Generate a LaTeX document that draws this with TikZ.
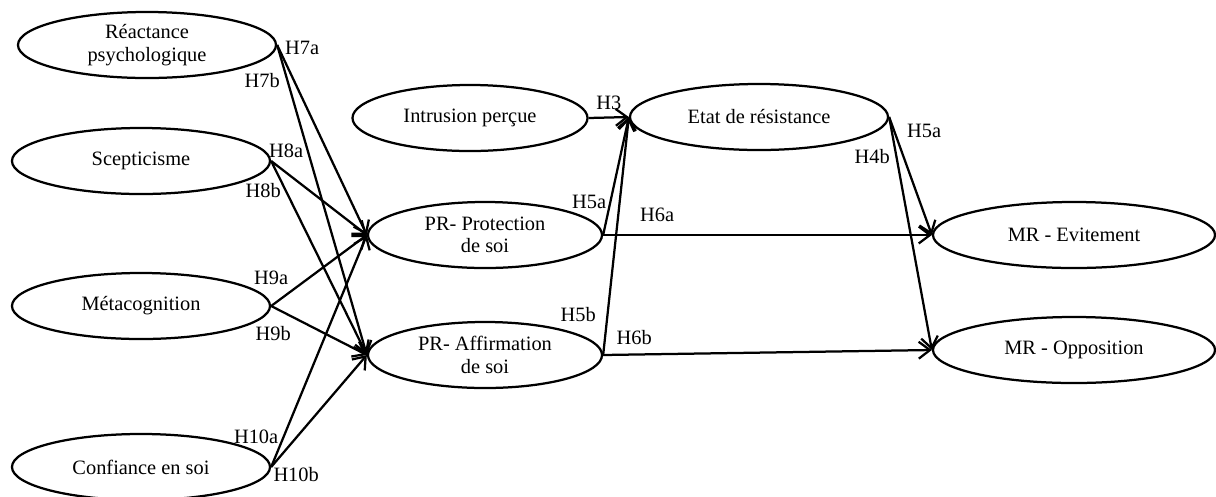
\documentclass[tikz,border=0pt]{standalone}
\usepackage{fontspec}
\setmainfont{Liberation Serif}
\usetikzlibrary{shapes.geometric,arrows.meta}

\begin{document}
\begin{tikzpicture}[
            x=0.025cm, y=-0.025cm,
            line width=1.6pt,
            >={Straight Barb[length=8pt,width=12pt]},
            var/.style={ellipse, draw, fill=white, inner sep=0pt, align=center,
                minimum width=6.45cm, minimum height=1.65cm,
                font=\rmfamily\fontsize{14.5}{16}\selectfont},
            hyp/.style={inner sep=0pt, font=\rmfamily\fontsize{14.5}{16}\selectfont},
            ]
            \useasboundingbox (0,0) rectangle (1216,496);

            \node (REA) [var] at (147,45) {Réactance\\psychologique};
            \node (SCE) [var] at (141,161) {Scepticisme};
            \node (MET) [var] at (141,306) {Métacognition};
            \node (CON) [var] at (141,467) {Confiance en soi};
            \node (INT) [var, minimum width=5.875cm] at (470,118) {Intrusion perçue};
            \node (PRP) [var, minimum width=5.85cm] at (485,235) {PR- Protection\\de soi};
            \node (PRA) [var, minimum width=5.85cm] at (485,355) {PR- Affirmation\\de soi};
            \node (ETA) [var] at (759,117) {Etat de résistance};
            \node (EVI) [var, minimum width=7.05cm] at (1074,235) {MR - Evitement};
            \node (OPP) [var, minimum width=7.05cm] at (1074,350) {MR - Opposition};

            \draw[->] (REA.east) -- node[hyp, at start, shift={(25,3)}] (H7a) {H7a} (PRP.west);
            \draw[->] (REA.east) -- node[hyp, at start, shift={(-15,36)}] (H7b) {H7b} (PRA.west);
            \draw[->] (SCE.east) -- node[hyp, at start, shift={(15,-10)}] (H8a) {H8a} (PRP.west);
            \draw[->] (SCE.east) -- node[hyp, at start, shift={(-8,30)}] (H8b) {H8b} (PRA.west);
            \draw[->] (MET.east) -- node[hyp, at start, shift={(0,-28)}] (H9a) {H9a} (PRP.west);
            \draw[->] (MET.east) -- node[hyp, at start, shift={(2,28)}] (H9b) {H9b} (PRA.west);
            \draw[->] (CON.east) -- node[hyp, at start, shift={(-15,-30)}] (H10a) {H10a} (PRP.west);
            \draw[->] (CON.east) -- node[hyp, at start, shift={(25,8)}] (H10b) {H10b} (PRA.west);

            \draw[->] (INT.east) -- node[hyp, midway, above=5pt] (H3) {H3} (ETA.west);
            \draw[->] (PRP.east) -- node[hyp, at start, shift={(-14,-33)}] (H5a) {H5a} (ETA.west);
            \draw[->] (PRA.east) -- node[hyp, at start, shift={(-25,-40)}] (H5b) {H5b} (ETA.west);
            \draw[->] (PRP.east) -- node[hyp, at start, shift={(54,-20)}] (H6a) {H6a} (EVI.west);
            \draw[->] (PRA.east) -- node[hyp, at start, shift={(31,-17)}] (H6b) {H6b} (OPP.west);
            \draw[->] (ETA.east) -- node[hyp, at start, shift={(35,14)}] (H5ar) {H5a} (EVI.west);
            \draw[->] (ETA.east) -- node[hyp, at start, shift={(-17,40)}] (H4b) {H4b} (OPP.west);
        \end{tikzpicture}
\end{document}
